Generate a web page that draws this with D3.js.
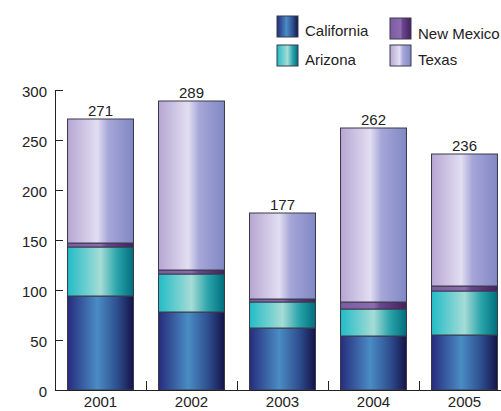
<!DOCTYPE html>
<meta charset="utf-8">
<style>
body { margin: 0; font-family: "Liberation Sans", Arial, sans-serif; background: #fff; }
svg text { fill: #222; }
</style>
<body>
<script src="https://cdn.jsdelivr.net/npm/d3@7"></script>
<script>
// data
var years = ["2001", "2002", "2003", "2004", "2005"];
var states = ["California", "Arizona", "New Mexico", "Texas"];
var california = [94, 78, 62, 54, 55];
var arizona = [49, 38, 26, 27, 44];
var newMexico = [4, 4, 3, 7, 5];
var texas = [124, 169, 86, 174, 132];
var totals = [271, 289, 177, 262, 236];
var yTicks = [0, 50, 100, 150, 200, 250, 300];

var width = 501, height = 411;
var svg = d3.select("body").append("svg")
  .attr("width", width)
  .attr("height", height);

// horizontal gradients for the cylinder look
var grads = {
  "California": [[0, "#262c7c"], [0.45, "#4a8cc4"], [0.75, "#2e4f90"], [1, "#141448"]],
  "Arizona": [[0, "#22bcc6"], [0.5, "#a6dcd6"], [0.75, "#2aa4aa"], [1, "#006e7e"]],
  "New Mexico": [[0, "#7c5aa0"], [0.5, "#8c6cb0"], [0.6, "#6a4690"], [1, "#44205e"]],
  "Texas": [[0, "#b6a6d2"], [0.45, "#e2def2"], [0.62, "#a6a6d8"], [1, "#8088c4"]]
};
var defs = svg.append("defs");
states.forEach(function (s, i) {
  var g = defs.append("linearGradient")
    .attr("id", "g" + i)
    .attr("x1", "0%").attr("x2", "100%").attr("y1", "0%").attr("y2", "0%");
  grads[s].forEach(function (st) {
    g.append("stop").attr("offset", st[0]).attr("stop-color", st[1]);
  });
});

var x = d3.scaleBand()
  .domain(years)
  .range([55, 510])
  .paddingInner(0.275)
  .paddingOuter(0.1375);

var y = d3.scaleLinear()
  .domain([0, 300])
  .range([390, 90]);

var table = years.map(function (yr, i) {
  return { year: yr, "California": california[i], "Arizona": arizona[i],
    "New Mexico": newMexico[i], "Texas": texas[i], total: totals[i] };
});

var stacked = d3.stack().keys(states)(table);

var layers = svg.selectAll(".layer")
  .data(stacked)
  .enter().append("g")
  .attr("class", "layer")
  .attr("fill", function (d, i) { return "url(#g" + i + ")"; });

layers.selectAll("rect")
  .data(function (d) { return d; })
  .enter().append("rect")
  .attr("x", function (d) { return x(d.data.year); })
  .attr("y", function (d) { return y(d[1]); })
  .attr("width", x.bandwidth())
  .attr("height", function (d) { return y(d[0]) - y(d[1]); })
  .attr("stroke", "#3a3a4a")
  .attr("stroke-width", 1);

// totals above bars
svg.selectAll(".total")
  .data(table)
  .enter().append("text")
  .attr("class", "total")
  .attr("x", function (d) { return x(d.year) + x.bandwidth() / 2; })
  .attr("y", function (d) { return y(d.total) - 3; })
  .attr("text-anchor", "middle")
  .style("font-size", "15px")
  .text(function (d) { return d.total; });

// y axis
var yAxis = svg.append("g")
  .attr("transform", "translate(55,0)")
  .call(d3.axisRight(y).tickValues(yTicks).tickSize(8).tickFormat(d3.format("d")));
yAxis.select(".domain").attr("d", "M0.5," + y(300) + "V" + y(0)).attr("stroke", "#222");
yAxis.selectAll(".tick line").attr("stroke", "#222");
yAxis.selectAll(".tick text")
  .attr("x", -8)
  .attr("dy", "0.45em")
  .attr("text-anchor", "end")
  .style("font-size", "15px")
  .style("font-family", "Liberation Sans, Arial, sans-serif")
  .attr("fill", "#222");

// x axis
var xAxis = svg.append("g")
  .attr("transform", "translate(0," + y(0) + ")");
xAxis.append("line")
  .attr("x1", 55).attr("x2", 510)
  .attr("y1", 0.5).attr("y2", 0.5)
  .attr("stroke", "#222");
xAxis.selectAll(".sep")
  .data(years.slice(1))
  .enter().append("line")
  .attr("class", "sep")
  .attr("x1", function (d) { return Math.round(x(d) - x.step() * 0.1375) + 0.5; })
  .attr("x2", function (d) { return Math.round(x(d) - x.step() * 0.1375) + 0.5; })
  .attr("y1", 0).attr("y2", -9)
  .attr("stroke", "#222");
xAxis.selectAll(".lbl")
  .data(years)
  .enter().append("text")
  .attr("class", "lbl")
  .attr("x", function (d) { return x(d) + x.bandwidth() / 2; })
  .attr("y", 17)
  .attr("text-anchor", "middle")
  .style("font-size", "15px")
  .text(function (d) { return d; });

// legend
var legendPos = [[277, 16, 305, 36], [277, 45, 305, 65], [390, 18, 418, 39], [390, 45, 418, 65]];
var legend = svg.selectAll(".legend")
  .data(states)
  .enter().append("g")
  .attr("class", "legend");
legend.append("rect")
  .attr("x", function (d, i) { return legendPos[i][0]; })
  .attr("y", function (d, i) { return legendPos[i][1]; })
  .attr("width", 21).attr("height", 21)
  .attr("fill", function (d, i) { return "url(#g" + i + ")"; })
  .attr("stroke", "#3a3a4a");
legend.append("text")
  .attr("x", function (d, i) { return legendPos[i][2]; })
  .attr("y", function (d, i) { return legendPos[i][3]; })
  .style("font-size", "15px")
  .text(function (d) { return d; });
</script>
</body>
